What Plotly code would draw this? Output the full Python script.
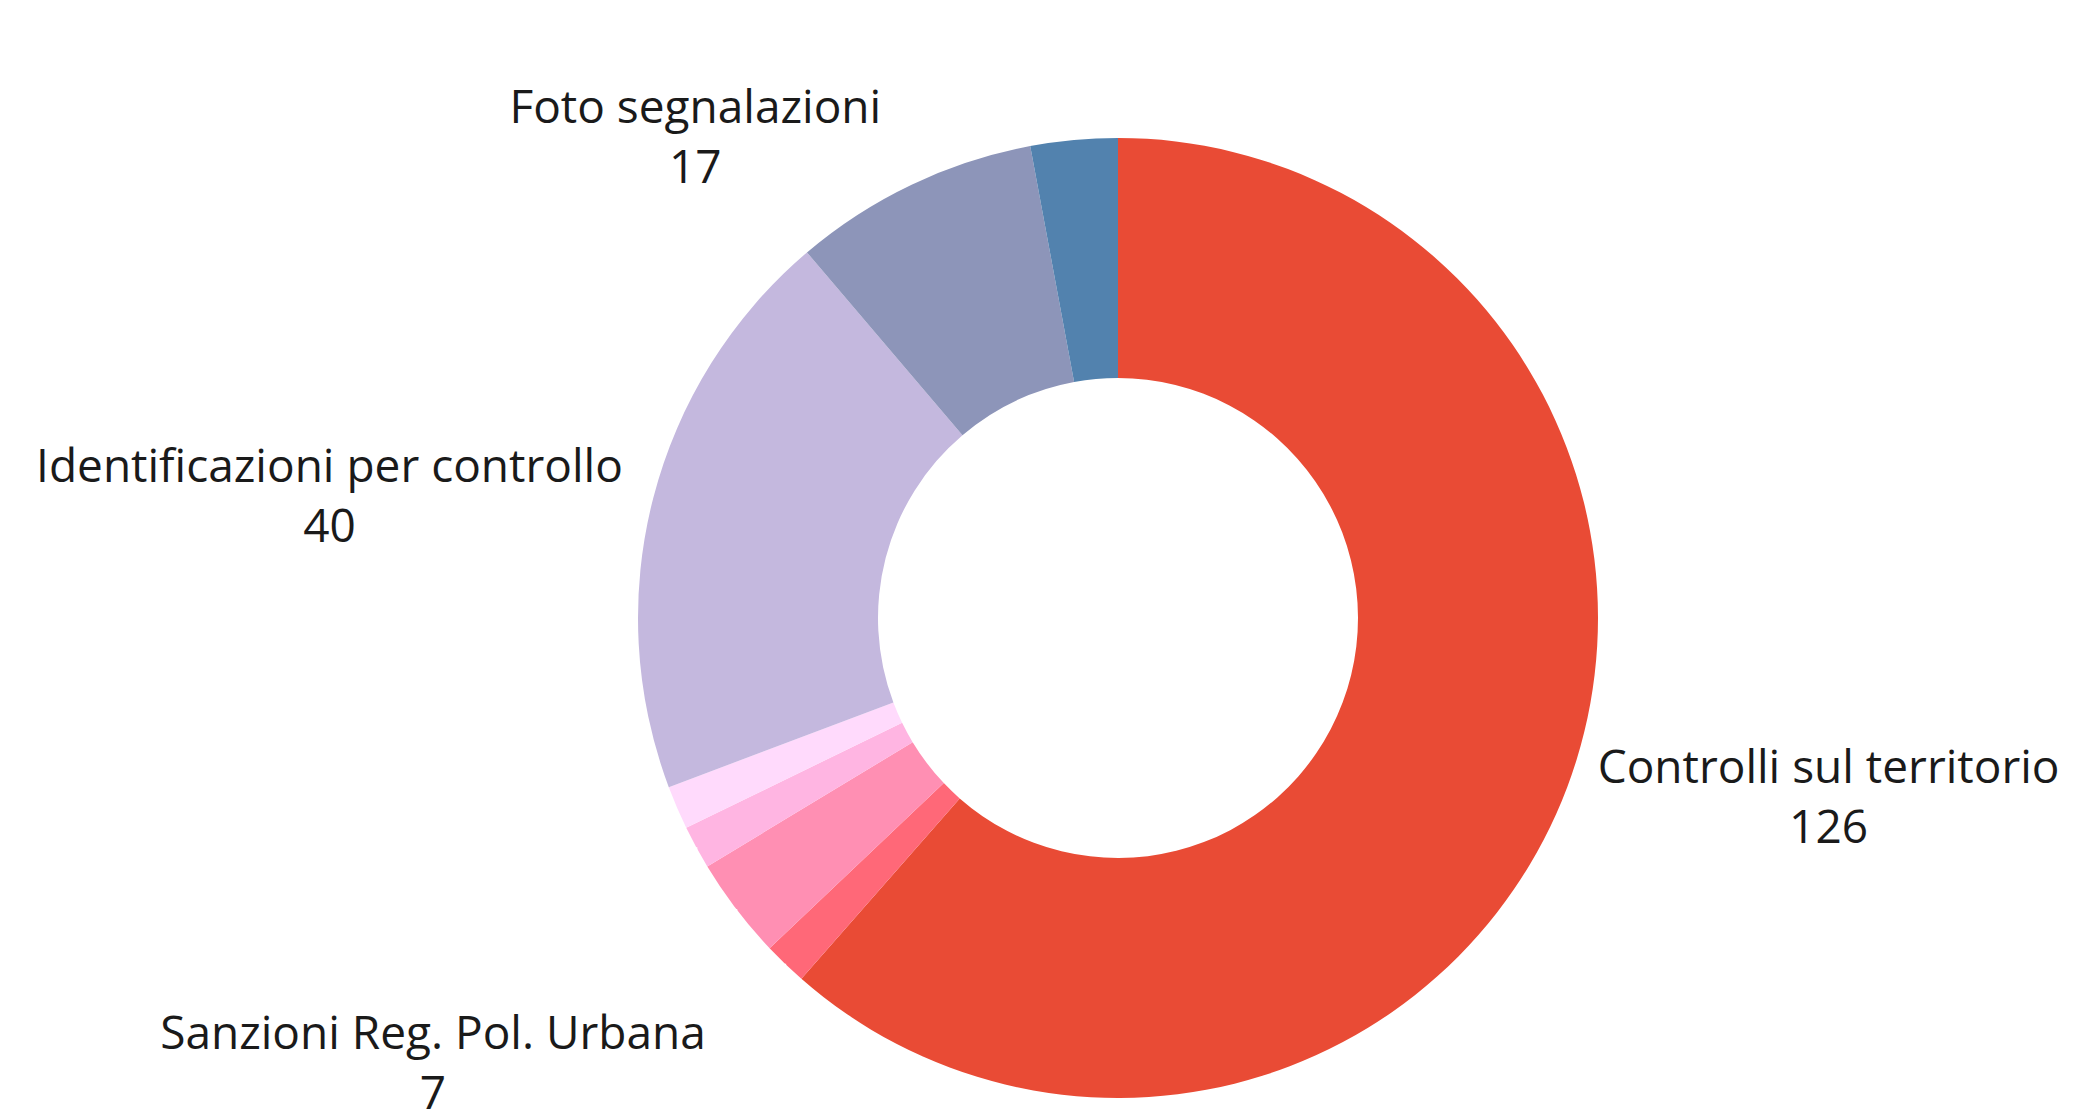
import plotly.graph_objects as go

categories = [
    "Controlli sul territorio",
    "Altro A",
    "Sanzioni Reg. Pol. Urbana",
    "Altro B",
    "Altro C",
    "Identificazioni per controllo",
    "Foto segnalazioni",
    "Altro D",
]
values = [126, 3, 7, 3, 3, 40, 17, 6]
show_label = [True, False, True, False, False, True, True, False]
colors = ["#E94B35", "#FF6878", "#FF8FB3", "#FFB5E2", "#FFDAFC",
          "#C4B8DE", "#8D95B9", "#5282AE"]

TXT = "#1a1a1a"
texts = []
for c, v, s in zip(categories, values, show_label):
    if s:
        texts.append(f'<span style="color:{TXT}">{c}</span><br><span style="color:{TXT}">{v}</span>')
    else:
        # unlabeled slice: keeps an (empty) outside label slot
        texts.append("\u00a0<br>\u00a0")

W, H = 2090, 1118
cx, cy, R = 1110, 610, 480

fig = go.Figure(go.Pie(
    labels=categories,
    values=values,
    text=texts,
    textinfo="text",
    textposition="outside",
    sort=False,
    direction="clockwise",
    rotation=0,
    hole=0.5,
    marker=dict(colors=colors, line=dict(width=0)),
    outsidetextfont=dict(size=46, color="#ffffff", family="Open Sans"),
    domain=dict(x=[(cx - R) / W, (cx + R) / W], y=[0, 1]),
    automargin=False,
    showlegend=False,
))
fig.update_layout(
    width=W, height=H,
    margin=dict(l=0, r=0, t=cy - R, b=H - (cy + R)),
    paper_bgcolor="white",
    plot_bgcolor="white",
    showlegend=False,
)
fig.write_html("out.html")
